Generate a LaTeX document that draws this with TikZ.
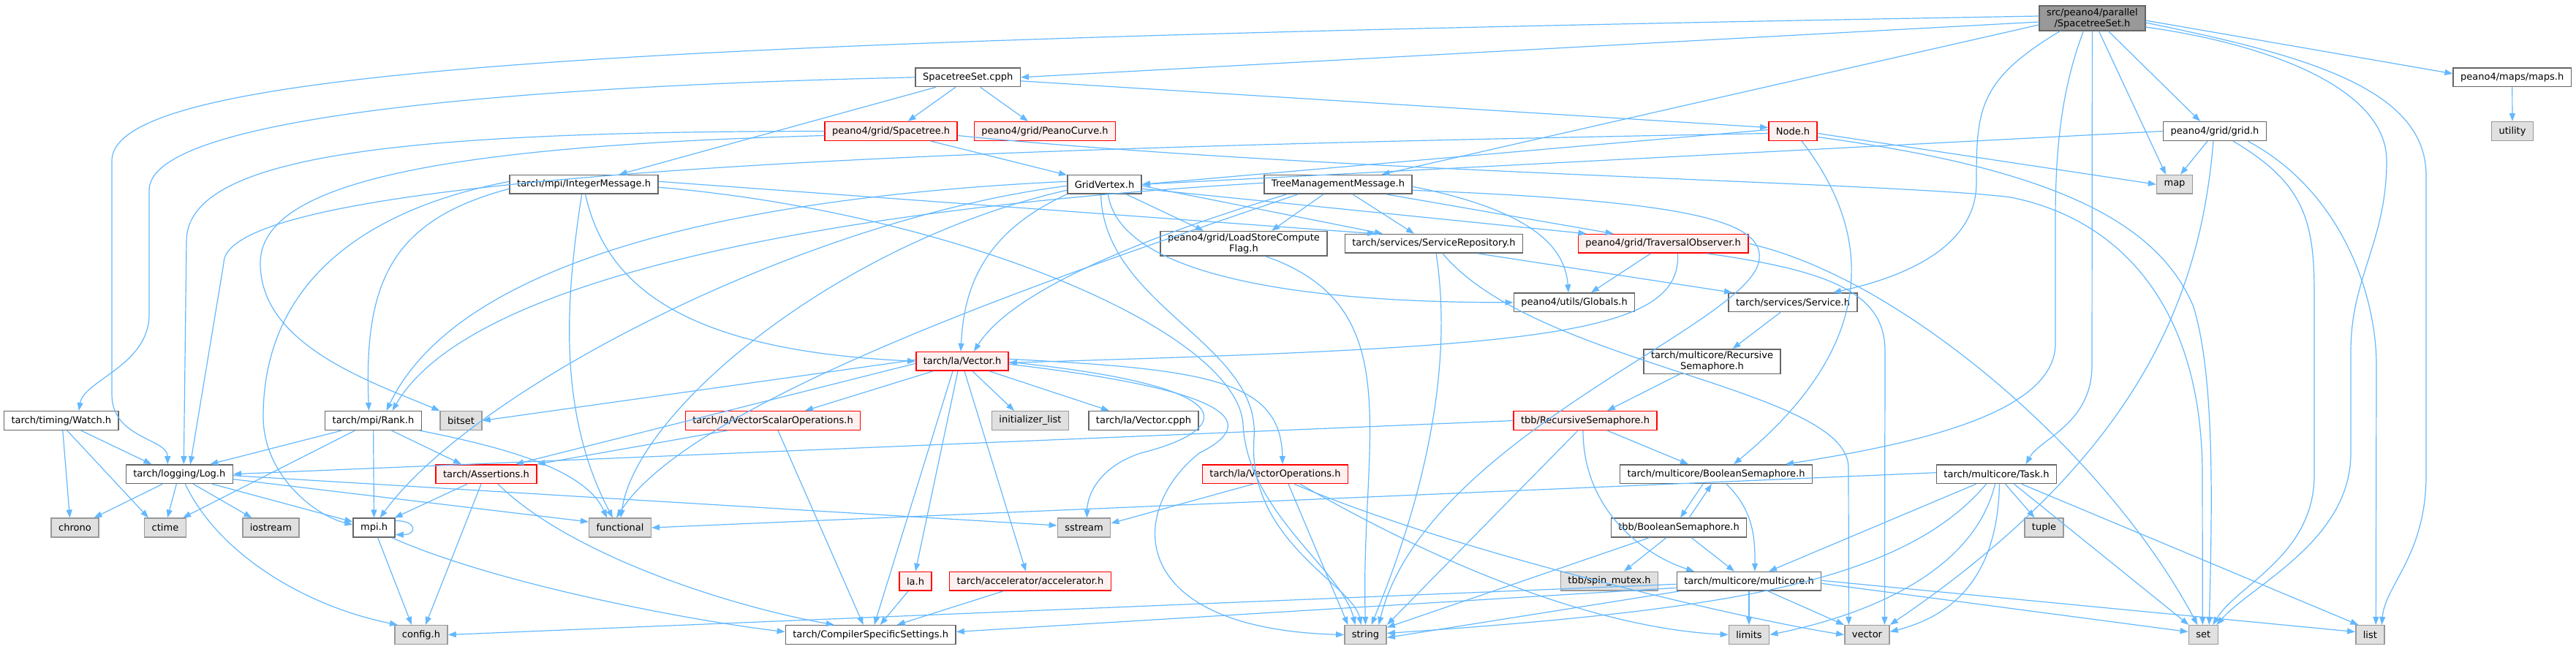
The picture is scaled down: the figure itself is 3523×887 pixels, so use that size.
\documentclass[tikz,border=0pt]{standalone}
\usepackage{fontspec}
\setmainfont{DejaVu Sans}
\usetikzlibrary{arrows.meta}
\definecolor{edgeblue}{HTML}{63B8FF}
\definecolor{boxgray}{HTML}{666666}
\definecolor{sysgray}{HTML}{999999}
\definecolor{sysfill}{HTML}{E0E0E0}
\definecolor{redfill}{HTML}{FFF0F0}
\definecolor{rootfill}{HTML}{999999}
\begin{document}
\begin{tikzpicture}[x=1pt,y=-1pt,
  font=\fontsize{13}{15}\selectfont,
  file/.style={draw=boxgray,fill=white,line width=1.5pt,inner xsep=10pt,minimum height=25.6pt},
  sysfile/.style={file,draw=sysgray,fill=sysfill},
  redfile/.style={file,draw=red,fill=redfill},
  rootfile/.style={file,fill=rootfill,align=center,inner ysep=3pt},
  twoline/.style={file,align=center,inner ysep=3pt},
  edge/.style={draw=edgeblue,line width=1.2pt,-{Triangle[length=11pt,width=8pt]}}]
\useasboundingbox (0,0) rectangle (3523,887);
% the included file at the top, then each level of the include graph
% row by row, the system headers are the grey boxes
\node[rootfile] (root) at (2861.4,25) {src/peano4/parallel\\/SpacetreeSet.h};
\node[file] (cpph) at (1323.7,105.8) {SpacetreeSet.cpph};
\node[file] (maps) at (3435.7,105.8) {peano4/maps/maps.h};
\node[redfile] (spacetree) at (1218.6,179.5) {peano4/grid/Spacetree.h};
\node[redfile] (peanocurve) at (1429,179.5) {peano4/grid/PeanoCurve.h};
\node[redfile] (nodeh) at (2452,179.5) {Node.h};
\node[file] (gridh) at (3029,179.5) {peano4/grid/grid.h};
\node[sysfile] (utility) at (3436,179.5) {utility};
\node[file] (intmsg) at (798.6,252.3) {tarch/mpi/IntegerMessage.h};
\node[file] (gridvertex) at (1510.5,252.3) {GridVertex.h};
\node[file] (treemsg) at (1830,252.3) {TreeManagementMessage.h};
\node[sysfile] (map) at (2974,252.3) {map};
\node[twoline] (loadstore) at (1701,333.3) {peano4/grid/LoadStoreCompute\\Flag.h};
\node[file] (servicerepo) at (1961,333.3) {tarch/services/ServiceRepository.h};
\node[redfile] (travobs) at (2274.5,333.3) {peano4/grid/TraversalObserver.h};
\node[file] (globals) at (2153,413.8) {peano4/utils/Globals.h};
\node[file] (service) at (2452,413.8) {tarch/services/Service.h};
\node[redfile] (lavector) at (1316,494.3) {tarch/la/Vector.h};
\node[twoline] (recsem) at (2341.5,494.7) {tarch/multicore/Recursive\\Semaphore.h};
\node[file] (watch) at (83.8,575.5) {tarch/timing/Watch.h};
\node[file] (rank) at (510.5,575.5) {tarch/mpi/Rank.h};
\node[sysfile] (bitset) at (630.6,575.5) {bitset};
\node[redfile] (vecscalar) at (1057,575.5) {tarch/la/VectorScalarOperations.h};
\node[sysfile] (initlist) at (1409,575.5) {initializer\_list};
\node[file] (vectorcpph) at (1564,575.5) {tarch/la/Vector.cpph};
\node[redfile] (tbbrecsem) at (2168,575.5) {tbb/RecursiveSemaphore.h};
\node[file] (log) at (245.3,648.7) {tarch/logging/Log.h};
\node[redfile] (assertions) at (665,648.7) {tarch/Assertions.h};
\node[redfile] (vecops) at (1744,648.7) {tarch/la/VectorOperations.h};
\node[file] (boolsem) at (2347,648.7) {tarch/multicore/BooleanSemaphore.h};
\node[file] (task) at (2730.5,648.7) {tarch/multicore/Task.h};
\node[sysfile] (chrono) at (102.5,722) {chrono};
\node[sysfile] (ctime) at (226,722) {ctime};
\node[sysfile] (iostream) at (370.4,722) {iostream};
\node[file] (mpi) at (511.6,722) {mpi.h};
\node[sysfile] (functional) at (848,722) {functional};
\node[sysfile] (sstream) at (1482.5,722) {sstream};
\node[file] (tbbboolsem) at (2296,722) {tbb/BooleanSemaphore.h};
\node[sysfile] (tuple) at (2795.5,722) {tuple};
\node[redfile] (lah) at (1252,795.3) {la.h};
\node[redfile] (accel) at (1409,795.3) {tarch/accelerator/accelerator.h};
\node[sysfile] (spinmutex) at (2201,795.3) {tbb/spin\_mutex.h};
\node[file] (multicore) at (2392,795.3) {tarch/multicore/multicore.h};
\node[sysfile] (config) at (576,868.5) {config.h};
\node[file] (compiler) at (1190.7,868.5) {tarch/CompilerSpecificSettings.h};
\node[sysfile] (string) at (1867.5,868.5) {string};
\node[sysfile] (limits) at (2392,868.5) {limits};
\node[sysfile] (stdvector) at (2553.4,868.5) {vector};
\node[sysfile] (set) at (3013.3,868.5) {set};
\node[sysfile] (list) at (3241.3,868.5) {list};
% includes of the top file
\draw[edge] ([yshift=-5pt]root.west) -- (cpph.east);
\draw[edge] ([yshift=3pt]root.west) .. controls (900,55) and (153,90) .. (153,220) -- (153,540) .. controls (153,600) and (229,600) .. ([xshift=-16pt]log.north);
\draw[edge] ([yshift=-9pt]root.west) -- (treemsg);
\draw[edge] ([xshift=-44pt]root.south) .. controls (2705,110) and (2703,150) .. (2703,250) .. controls (2703,340) and (2600,380) .. ([xshift=55pt]service.north);
\draw[edge] ([xshift=-12pt]root.south) .. controls (2820,120) and (2811,200) .. (2811,300) -- (2811,470) .. controls (2811,570) and (2600,610) .. ([xshift=95pt]boolsem.north);
\draw[edge] (root.south) -- (2861,500) .. controls (2861,580) and (2790,600) .. ([xshift=40pt]task.north);
\draw[edge] ([xshift=9pt]root.south) -- ([xshift=-12pt]map.north);
\draw[edge] ([xshift=22pt]root.south) -- ([xshift=-20pt]gridh.north);
\draw[edge] ([yshift=-3pt]root.east) -- ([yshift=5pt]maps.west);
\draw[edge] ([yshift=-12pt]root.east) .. controls (3100,60) and (3264,120) .. (3264,220) .. controls (3264,330) and (3215,380) .. (3215,480) -- (3215,620) .. controls (3215,740) and (3080,800) .. ([xshift=18pt]set.north);
\draw[edge] ([yshift=-6pt]root.east) .. controls (3150,75) and (3318,120) .. (3318,240) -- (3318,650) .. controls (3318,760) and (3262,800) .. ([xshift=16pt]list.north);
% SpacetreeSet.cpph and maps
\draw[edge] (cpph.west) .. controls (700,118) and (204,160) .. (204,260) -- (204,430) .. controls (204,500) and (115,520) .. ([xshift=24pt]watch.north);
\draw[edge] ([xshift=-44pt]cpph.south) -- ([xshift=48pt]intmsg.north);
\draw[edge] ([xshift=-17pt]cpph.south) -- ([xshift=23pt]spacetree.north);
\draw[edge] ([xshift=17pt]cpph.south) -- ([xshift=-23pt]peanocurve.north);
\draw[edge] ([yshift=-5pt]cpph.east) -- ([yshift=5pt]nodeh.west);
\draw[edge] (maps) -- (utility);
% Spacetree.h, Node.h, grid.h
\draw[edge] (spacetree.west) .. controls (560,180) and (255,210) .. (255,330) -- ([xshift=6pt]log.north);
\draw[edge] ([yshift=-6pt]spacetree.west) .. controls (600,200) and (356,250) .. (356,360) .. controls (356,470) and (500,520) .. (bitset.north west);
\draw[edge] (spacetree) -- (gridvertex);
\draw[edge] ([yshift=-6pt]spacetree.east) .. controls (1800,235) and (2600,250) .. (2750,270) .. controls (2900,300) and (3012,420) .. (3012,650) -- ([xshift=-1pt]set.north);
\draw[edge] ([yshift=-3pt]nodeh.west) .. controls (1500,200) and (306,225) .. (306,360) -- ([xshift=15pt]log.north);
\draw[edge] ([yshift=2pt]nodeh.west) -- (gridvertex.east);
\draw[edge] ([yshift=-3pt]nodeh.east) -- (map.west);
\draw[edge] ([yshift=-8pt]nodeh.east) .. controls (2800,230) and (2950,300) .. (3000,420) .. controls (3030,520) and (3025,700) .. ([xshift=8pt]set.north);
\draw[edge] ([xshift=12pt]nodeh.south) .. controls (2570,330) and (2560,480) .. ([xshift=24pt]boolsem.north);
\draw[edge] (gridh.west) -- (gridvertex.east);
\draw[edge] ([xshift=-10pt]gridh.south) -- ([xshift=8pt]map.north);
\draw[edge] ([xshift=-2pt]gridh.south) .. controls (3010,400) and (2930,620) .. (stdvector.north east);
\draw[edge] ([xshift=25pt]gridh.south) .. controls (3150,250) and (3165,300) .. (3165,400) -- (3165,650) .. controls (3165,760) and (3060,800) .. ([xshift=13pt]set.north);
\draw[edge] ([xshift=45pt]gridh.south) .. controls (3200,260) and (3250,400) .. (3250,500) -- ([xshift=8pt]list.north);
% IntegerMessage.h, GridVertex.h, TreeManagementMessage.h
\draw[edge] ([yshift=4pt]intmsg.west) .. controls (480,290) and (360,400) .. (360,570) .. controls (360,650) and (430,705) .. ([yshift=4pt]mpi.west);
\draw[edge] ([yshift=-6pt]intmsg.west) .. controls (540,300) and (497,380) .. ([xshift=-6pt]rank.north);
\draw[edge] ([xshift=-3pt]intmsg.south) .. controls (775,400) and (760,560) .. ([xshift=-10pt]functional.north);
\draw[edge] ([xshift=2pt]intmsg.south) .. controls (830,400) and (950,480) .. (lavector.west);
\draw[edge] ([yshift=4pt]intmsg.east) -- ([xshift=-80pt]servicerepo.north);
\draw[edge] ([yshift=-4pt]intmsg.east) .. controls (1300,290) and (1690,450) .. (1700,580) .. controls (1705,700) and (1835,780) .. ([xshift=-14pt]string.north);
\draw[edge] (gridvertex.south west) .. controls (1340,320) and (1318,400) .. ([xshift=-2pt]lavector.north);
\draw[edge] ([xshift=30pt]gridvertex.south) -- ([xshift=-55pt]loadstore.north);
\draw[edge] ([yshift=-2pt]gridvertex.east) -- ([xshift=-70pt]servicerepo.north);
\draw[edge] ([yshift=-6pt]gridvertex.east) -- ([xshift=-105pt]travobs.north);
\draw[edge] ([xshift=5pt]gridvertex.south) .. controls (1530,370) and (1750,414) .. (globals.west);
\draw[edge] ([xshift=-5pt]gridvertex.south) .. controls (1510,420) and (1725,470) .. (1715,600) .. controls (1705,740) and (1850,800) .. ([xshift=-6pt]string.north);
\draw[edge] ([yshift=4pt]gridvertex.west) .. controls (1100,265) and (640,330) .. ([xshift=18pt]rank.north);
\draw[edge] ([yshift=-2pt]gridvertex.west) .. controls (1100,300) and (650,530) .. ([xshift=8pt]mpi.north);
\draw[edge] ([yshift=-8pt]gridvertex.west) .. controls (1150,330) and (870,560) .. ([xshift=1pt]functional.north);
\draw[edge] ([yshift=2pt]treemsg.west) .. controls (1300,275) and (660,350) .. ([xshift=26pt]rank.north);
\draw[edge] ([xshift=-55pt]treemsg.south) .. controls (1500,360) and (950,540) .. ([xshift=-5pt]functional.north);
\draw[edge] ([xshift=-70pt]treemsg.south) .. controls (1480,350) and (1370,420) .. ([xshift=16pt]lavector.north);
\draw[edge] ([xshift=-20pt]treemsg.south) -- ([xshift=38pt]loadstore.north);
\draw[edge] ([xshift=20pt]treemsg.south) -- ([xshift=-27pt]servicerepo.north);
\draw[edge] ([xshift=66pt]treemsg.south) -- ([xshift=-68pt]travobs.north);
\draw[edge] ([yshift=-3pt]treemsg.east) .. controls (2080,285) and (2140,330) .. ([xshift=-8pt]globals.north);
\draw[edge] ([yshift=-8pt]treemsg.east) .. controls (2300,275) and (2420,300) .. (2405,360) .. controls (2380,450) and (1950,600) .. ([xshift=18pt]string.north);
% LoadStoreComputeFlag.h, ServiceRepository.h, TraversalObserver.h
\draw[edge] ([xshift=30pt]loadstore.south) .. controls (1930,420) and (1860,600) .. (string.north);
\draw[edge] ([xshift=60pt]servicerepo.south) -- ([xshift=-83pt]service.north);
\draw[edge] ([xshift=3pt]servicerepo.south) .. controls (1985,480) and (1960,650) .. ([xshift=8pt]string.north);
\draw[edge] ([xshift=12pt]servicerepo.south) .. controls (2100,500) and (2528,530) .. (2528,640) -- ([xshift=-25pt]stdvector.north);
\draw[edge] ([xshift=-17pt]travobs.south) -- ([xshift=23pt]globals.north);
\draw[edge] ([xshift=20pt]travobs.south) .. controls (2300,460) and (2100,475) .. ([yshift=-2pt]lavector.east);
\draw[edge] ([xshift=60pt]travobs.south) .. controls (2500,370) and (2578,400) .. (2578,480) -- ([xshift=24pt]stdvector.north);
\draw[edge] (travobs.east) .. controls (2600,380) and (2880,620) .. ([xshift=-8pt]set.north);
% services and multicore
\draw[edge] ([xshift=-17pt]service.south) -- ([xshift=28pt]recsem.north);
\draw[edge] ([xshift=-45pt]recsem.south) -- ([xshift=30pt]tbbrecsem.north);
\draw[edge] (tbbrecsem.west) -- (log.east);
\draw[edge] ([xshift=-10pt]tbbrecsem.south) -- (string.north east);
\draw[edge] ([xshift=-3pt]tbbrecsem.south) .. controls (2165,700) and (2250,760) .. ([xshift=-75pt]multicore.north);
\draw[edge] ([xshift=30pt]tbbrecsem.south) -- ([xshift=-38pt]boolsem.north);
\draw[edge] ([xshift=-18pt]boolsem.south) -- ([xshift=2pt]tbbboolsem.north);
\draw[edge] ([xshift=14pt]tbbboolsem.north) -- ([xshift=-6pt]boolsem.south);
\draw[edge] ([xshift=14pt]boolsem.south) .. controls (2400,700) and (2400,740) .. ([xshift=8pt]multicore.north);
\draw[edge] ([xshift=-17pt]tbbboolsem.south) -- ([xshift=20pt]spinmutex.north);
\draw[edge] ([xshift=-40pt]tbbboolsem.south) -- (string);
\draw[edge] ([xshift=17pt]tbbboolsem.south) -- ([xshift=-20pt]multicore.north);
\draw[edge] (multicore) -- (limits);
\draw[edge] ([xshift=26pt]multicore.south) -- (stdvector.north west);
\draw[edge] ([yshift=-3pt]multicore.east) -- ([yshift=4pt]set.west);
\draw[edge] ([yshift=1pt]multicore.east) -- ([yshift=4pt]list.west);
\draw[edge] ([xshift=-95pt]multicore.south) -- ([yshift=-4pt]string.east);
\draw[edge] ([yshift=-4pt]multicore.west) -- (config.east);
\draw[edge] ([yshift=-9pt]multicore.west) -- ([yshift=4pt]compiler.east);
\draw[edge] ([yshift=2pt]task.west) -- (functional.east);
\draw[edge] ([xshift=-28pt]task.south) -- ([xshift=27pt]multicore.north);
\draw[edge] ([xshift=-14pt]task.south) .. controls (2600,800) and (2350,835) .. ([yshift=2pt]string.east);
\draw[edge] ([xshift=-2pt]task.south) .. controls (2700,780) and (2560,840) .. (limits.east);
\draw[edge] ([xshift=4pt]task.south) .. controls (2732,780) and (2680,840) .. ([yshift=4pt]stdvector.east);
\draw[edge] ([xshift=12pt]task.south) -- ([xshift=-13pt]tuple.north);
\draw[edge] ([xshift=24pt]task.south) -- ([xshift=-20pt]set.north);
\draw[edge] ([xshift=34pt]task.south) -- ([xshift=-16pt]list.north);
% tarch/la
\draw[edge] ([yshift=2pt]lavector.west) -- (bitset.east);
\draw[edge] ([yshift=-3pt]lavector.west) -- ([xshift=40pt]assertions.north);
\draw[edge] ([xshift=-40pt]lavector.south) -- ([xshift=44pt]vecscalar.north);
\draw[edge] ([xshift=-13pt]lavector.south) -- ([xshift=5pt]compiler.north);
\draw[edge] ([xshift=-6pt]lavector.south) -- (lah.north);
\draw[edge] ([xshift=3pt]lavector.south) -- ([xshift=-6pt]accel.north);
\draw[edge] ([xshift=14pt]lavector.south) -- ([xshift=-22pt]initlist.north);
\draw[edge] ([xshift=37pt]lavector.south) -- ([xshift=-47pt]vectorcpph.north);
\draw[edge] ([yshift=3pt]lavector.east) .. controls (1650,505) and (1752,520) .. ([xshift=10pt]vecops.north);
\draw[edge] ([yshift=-1pt]lavector.east) .. controls (1720,530) and (1680,590) .. (1560,620) .. controls (1500,640) and (1487,680) .. ([xshift=4pt]sstream.north);
\draw[edge] ([yshift=-4pt]lavector.east) .. controls (1740,540) and (1700,590) .. (1640,620) .. controls (1540,700) and (1540,860) .. (string.west);
\draw[edge] ([xshift=-62pt]vecscalar.south) -- (assertions.north east);
\draw[edge] ([xshift=7pt]vecscalar.south) -- ([xshift=-10pt]compiler.north);
\draw[edge] ([xshift=-30pt]vecops.south) -- ([yshift=6pt]sstream.east);
\draw[edge] ([xshift=18pt]vecops.south) -- ([xshift=-24pt]string.north);
\draw[edge] ([xshift=26pt]vecops.south) .. controls (2000,760) and (2400,850) .. (stdvector.west);
\draw[edge] ([xshift=34pt]vecops.south) .. controls (2000,790) and (2200,860) .. (limits.west);
\draw[edge] ([xshift=-10pt]lah.south) -- ([xshift=13pt]compiler.north);
\draw[edge] ([xshift=-37pt]accel.south) -- ([xshift=36pt]compiler.north);
% Assertions.h, Rank.h, Log.h, Watch.h, mpi.h
\draw[edge] ([xshift=-26pt]assertions.south) -- ([xshift=28pt]mpi.north);
\draw[edge] ([xshift=-7pt]assertions.south) -- ([xshift=6pt]config.north);
\draw[edge] ([xshift=16pt]assertions.south) .. controls (780,760) and (1000,830) .. ([xshift=-50pt]compiler.north);
\draw[edge] ([xshift=-43pt]rank.south) -- ([xshift=42pt]log.north);
\draw[edge] ([xshift=-25pt]rank.south) -- ([xshift=24pt]ctime.north);
\draw[edge] (rank) -- (mpi);
\draw[edge] ([xshift=25pt]rank.south) -- ([xshift=-34pt]assertions.north);
\draw[edge] ([xshift=63pt]rank.south) .. controls (680,610) and (800,640) .. ([xshift=-18pt]functional.north);
\draw[edge] ([xshift=-23pt]log.south) -- ([xshift=26pt]chrono.north);
\draw[edge] ([xshift=-4pt]log.south) -- ([xshift=3pt]ctime.north);
\draw[edge] ([xshift=19pt]log.south) -- ([xshift=-26pt]iostream.north);
\draw[edge] ([xshift=45pt]log.south) -- ([yshift=8pt]mpi.west);
\draw[edge] ([yshift=-7pt]log.east) -- ([yshift=8pt]functional.west);
\draw[edge] ([yshift=-2pt]log.east) -- ([yshift=3pt]sstream.west);
\draw[edge] ([xshift=8pt]log.south) .. controls (300,760) and (420,830) .. ([xshift=-32pt]config.north);
\draw[edge] ([xshift=27pt]watch.south) -- ([xshift=-38pt]log.north);
\draw[edge] ([xshift=8pt]watch.south) -- ([xshift=-23pt]ctime.north);
\draw[edge] ([xshift=2pt]watch.south) -- ([xshift=-7pt]chrono.north);
\draw[edge] ([xshift=5pt]mpi.south) -- ([xshift=-13pt]config.north);
\draw[edge] ([xshift=24pt]mpi.south) .. controls (680,800) and (950,850) .. ([yshift=4pt]compiler.west);
\draw[edge] ([yshift=-4pt]mpi.north east) .. controls +(30,0) and +(30,0) .. ([yshift=4pt]mpi.south east);
\end{tikzpicture}
\end{document}
